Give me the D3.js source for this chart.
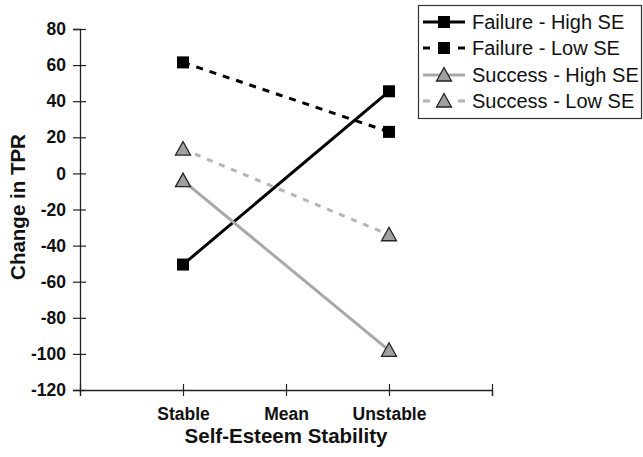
<!DOCTYPE html>
<html>
<head>
<meta charset="utf-8">
<script src="https://cdn.jsdelivr.net/npm/d3@7"></script>
<style>
  html, body { margin: 0; padding: 0; background: #fff; }
  svg { display: block; }
  text { font-family: "Liberation Sans", Arial, sans-serif; }
</style>
</head>
<body>
<svg id="chart" width="643" height="457"></svg>
<script>
// ---- data ----
const xTickLabels = ["", "Stable", "Mean", "Unstable", ""];
const categories = ["Stable", "Unstable"];
const categoryPos = [1, 3];
const yTicks = [-120, -100, -80, -60, -40, -20, 0, 20, 40, 60, 80];
const seriesNames = ["Failure - High SE", "Failure - Low SE", "Success - High SE", "Success - Low SE"];
const failureHigh = [-50.5, 45.5];
const failureLow = [61.5, 23];
const successHigh = [-4, -98];
const successLow = [13.5, -34];

// ---- styles ----
const seriesValues = [failureHigh, failureLow, successHigh, successLow];
const styles = [
  { color: "#000", dash: null, marker: "square" },
  { color: "#000", dash: "7,7", marker: "square" },
  { color: "#a8a8a8", dash: null, marker: "triangle" },
  { color: "#b4b4b4", dash: "6,7", marker: "triangle" }
];

const svg = d3.select("#chart");
const x = d3.scaleLinear().domain([0, 4]).range([80, 492]);
const y = d3.scaleLinear().domain([-120, 80]).range([390, 29]);

// y axis
const yAxis = svg.append("g").attr("transform", "translate(80,0)")
  .call(d3.axisLeft(y).tickValues(yTicks).tickSize(7).tickPadding(7).tickFormat((d) => String(d)));
yAxis.select(".domain").attr("stroke", "#222").attr("stroke-width", 1.3);
yAxis.selectAll(".tick line").attr("x1", 6).attr("x2", -7).attr("stroke", "#222").attr("stroke-width", 1.2);
yAxis.selectAll(".tick text").attr("font-size", 17.5).attr("font-weight", "bold").attr("fill", "#111")
  .attr("font-family", "'Liberation Sans', Arial, sans-serif");

// x axis
const xAxis = svg.append("g").attr("transform", "translate(0,390)")
  .call(d3.axisBottom(x).tickValues([0, 1, 2, 3, 4]).tickSize(6).tickFormat((d) => xTickLabels[d]));
xAxis.select(".domain").attr("stroke", "#222").attr("stroke-width", 1.3);
xAxis.selectAll(".tick line").attr("y1", -6).attr("y2", 6).attr("stroke", "#222").attr("stroke-width", 1.2);
xAxis.selectAll(".tick text").attr("y", 30).attr("dy", 0).attr("font-size", 17.5).attr("font-weight", "bold")
  .attr("fill", "#111").attr("font-family", "'Liberation Sans', Arial, sans-serif");

// axis titles
svg.append("text").attr("x", 286).attr("y", 443).attr("text-anchor", "middle")
  .attr("font-size", 20.5).attr("font-weight", "bold").attr("fill", "#111").text("Self-Esteem Stability");
svg.append("text").attr("transform", "translate(25,207) rotate(-90)").attr("text-anchor", "middle")
  .attr("font-size", 20.5).attr("font-weight", "bold").attr("fill", "#111").text("Change in TPR");

function drawMarker(g, type, cx, cy) {
  if (type === "square") {
    g.append("rect").attr("x", cx - 6).attr("y", cy - 6).attr("width", 12).attr("height", 12).attr("fill", "#000");
  } else {
    g.append("path").attr("d", `M${cx},${cy - 7.5}L${cx + 7.5},${cy + 6}L${cx - 7.5},${cy + 6}Z`)
      .attr("fill", "#a0a0a0").attr("stroke", "#222").attr("stroke-width", 1.3);
  }
}

// lines
const line = d3.line().x((d, i) => x(categoryPos[i])).y((d) => y(d));
seriesValues.forEach((vals, s) => {
  svg.append("path").datum(vals).attr("d", line).attr("fill", "none")
    .attr("stroke", styles[s].color).attr("stroke-width", 3)
    .attr("stroke-dasharray", styles[s].dash);
});
// markers
seriesValues.forEach((vals, s) => {
  const g = svg.append("g");
  vals.forEach((v, i) => drawMarker(g, styles[s].marker, x(categoryPos[i]), y(v)));
});

// legend
const lg = svg.append("g");
lg.append("rect").attr("x", 418.5).attr("y", 5.5).attr("width", 223).attr("height", 113)
  .attr("fill", "#fff").attr("stroke", "#333").attr("stroke-width", 1.2);
const legendY = [22, 48, 75, 101];
seriesNames.forEach((name, s) => {
  const cy = legendY[s];
  if (styles[s].dash) {
    lg.append("line").attr("x1", 423).attr("x2", 430).attr("y1", cy).attr("y2", cy)
      .attr("stroke", styles[s].color).attr("stroke-width", 3);
    lg.append("line").attr("x1", 458).attr("x2", 465).attr("y1", cy).attr("y2", cy)
      .attr("stroke", styles[s].color).attr("stroke-width", 3);
  } else {
    lg.append("line").attr("x1", 423).attr("x2", 465).attr("y1", cy).attr("y2", cy)
      .attr("stroke", styles[s].color).attr("stroke-width", 3);
  }
  drawMarker(lg, styles[s].marker, 444, cy);
  lg.append("text").attr("x", 472).attr("y", cy + 7).attr("font-size", 20).attr("fill", "#111").text(name);
});
</script>
</body>
</html>
